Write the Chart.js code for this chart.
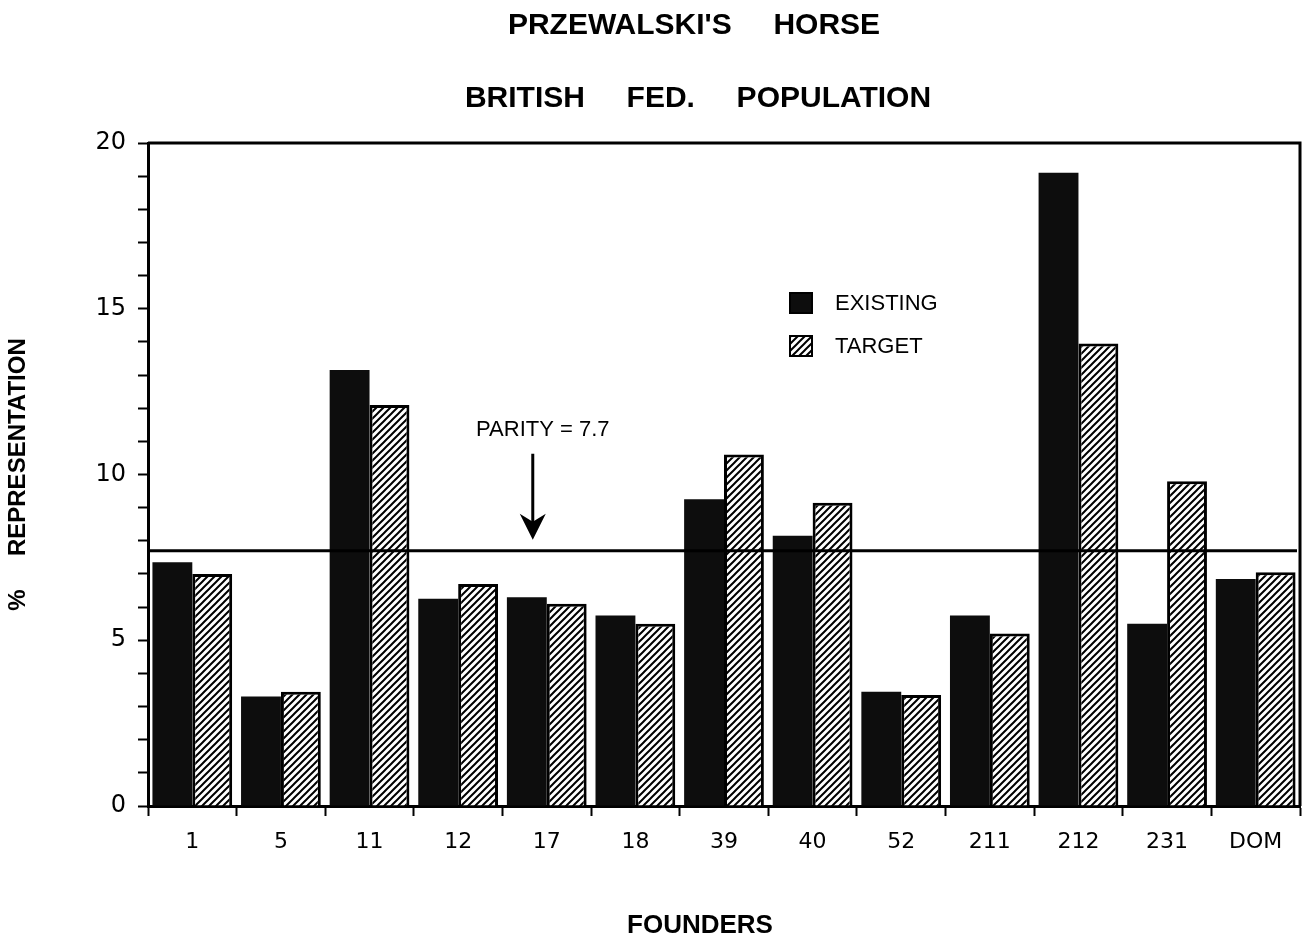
<!DOCTYPE html>
<html>
<head>
<meta charset="utf-8">
<script src="https://cdn.jsdelivr.net/npm/chart.js@4.4.1/dist/chart.umd.min.js"></script>
<style>
  html, body { margin: 0; padding: 0; background: #fff; }
  canvas { display: block; }
</style>
</head>
<body>
<canvas id="horseChart" width="1304" height="940"></canvas>
<script>
const founders = ['1', '5', '11', '12', '17', '18', '39', '40', '52', '211', '212', '231', 'DOM'];
const existing = [7.35, 3.3, 13.15, 6.25, 6.3, 5.75, 9.25, 8.15, 3.45, 5.75, 19.1, 5.5, 6.85];
const target = [7.0, 3.45, 12.1, 6.7, 6.1, 5.5, 10.6, 9.15, 3.35, 5.2, 13.95, 9.8, 7.05];
const parity = 7.7;
const parityLabel = 'PARITY = 7.7';
const titleLines = ["PRZEWALSKI'S     HORSE", 'BRITISH     FED.     POPULATION'];
const xTitle = 'FOUNDERS';

function hatchPattern(ctx) {
    const tile = document.createElement('canvas');
    tile.width = 7;
    tile.height = 7;
    const t = tile.getContext('2d');
    t.fillStyle = '#fff';
    t.fillRect(0, 0, 7, 7);
    t.strokeStyle = '#000';
    t.lineWidth = 2;
    t.beginPath();
    t.moveTo(-1, 8); t.lineTo(8, -1);
    t.moveTo(-2, 2); t.lineTo(2, -2);
    t.moveTo(5, 9); t.lineTo(9, 5);
    t.stroke();
    return ctx.createPattern(tile, 'repeat');
}

// top and right sides of the frame
const framePlugin = {
    id: 'frame',
    afterDraw(chart) {
        const { ctx, chartArea: a } = chart;
        ctx.save();
        ctx.strokeStyle = '#000';
        ctx.lineWidth = 3;
        ctx.beginPath();
        ctx.moveTo(a.left, a.top);
        ctx.lineTo(a.right, a.top);
        ctx.lineTo(a.right, a.bottom);
        ctx.stroke();
        ctx.restore();
    }
};

const titlePlugin = {
    id: 'titles',
    afterDraw(chart) {
        const ctx = chart.ctx;
        ctx.save();
        ctx.fillStyle = '#000';
        ctx.font = 'bold 30px "Liberation Sans", Arial, sans-serif';
        ctx.textAlign = 'center';
        ctx.textBaseline = 'middle';
        ctx.fillText(titleLines[0], 694, 26);
        ctx.fillText(titleLines[1], 698, 99);
        ctx.font = 'bold 26px "Liberation Sans", Arial, sans-serif';
        ctx.fillText(xTitle, 700, 926);
        ctx.restore();
    }
};

const parityPlugin = {
    id: 'parity',
    afterDatasetsDraw(chart) {
        const { ctx, chartArea: a, scales: { x, y } } = chart;
        const py = y.getPixelForValue(parity);
        const ax = x.getPixelForValue(4) - 14;
        ctx.save();
        ctx.strokeStyle = '#000';
        ctx.fillStyle = '#000';
        ctx.lineWidth = 3;
        ctx.beginPath();
        ctx.moveTo(a.left, py);
        ctx.lineTo(a.right - 3, py);
        ctx.stroke();
        // arrow
        ctx.beginPath();
        ctx.moveTo(ax, py - 97);
        ctx.lineTo(ax, py - 24);
        ctx.stroke();
        ctx.beginPath();
        ctx.moveTo(ax - 13, py - 37);
        ctx.lineTo(ax, py - 29);
        ctx.lineTo(ax + 13, py - 37);
        ctx.lineTo(ax, py - 11);
        ctx.closePath();
        ctx.fill();
        ctx.font = '22px "Liberation Sans", Arial, sans-serif';
        ctx.textAlign = 'center';
        ctx.textBaseline = 'middle';
        ctx.fillText(parityLabel, ax + 10, py - 121);
        ctx.restore();
    }
};

const legendPlugin = {
    id: 'boxLegend',
    afterDraw(chart) {
        const { ctx, chartArea: a } = chart;
        const bx = a.left + 642;
        let by = a.top + 150;
        ctx.save();
        ctx.font = '22px "Liberation Sans", Arial, sans-serif';
        ctx.textBaseline = 'middle';
        chart.data.datasets.forEach(ds => {
            ctx.fillStyle = ds.backgroundColor;
            ctx.fillRect(bx, by, 22, 20);
            ctx.strokeStyle = '#000';
            ctx.lineWidth = 2;
            ctx.strokeRect(bx, by, 22, 20);
            ctx.fillStyle = '#000';
            ctx.fillText(ds.label, bx + 45, by + 11);
            by += 43;
        });
        ctx.restore();
    }
};

document.addEventListener('DOMContentLoaded', () => {
    const canvas = document.getElementById('horseChart');
    const ctx = canvas.getContext('2d');
    const hatch = hatchPattern(ctx);

    new Chart(canvas, {
        type: 'bar',
        data: {
            labels: founders,
            datasets: [{
                label: 'EXISTING',
                data: existing,
                backgroundColor: '#0d0d0d',
                borderWidth: 0
            }, {
                label: 'TARGET',
                data: target,
                backgroundColor: hatch,
                borderColor: '#000',
                borderWidth: 3
            }]
        },
        options: {
            responsive: false,
            animation: false,
            categoryPercentage: 0.9,
            barPercentage: 1.0,
            layout: { padding: { top: 143, right: 4, bottom: 0, left: 0 } },
            plugins: {
                legend: { display: false },
                title: { display: false },
                tooltip: { enabled: false }
            },
            scales: {
                x: {
                    grid: { drawOnChartArea: false, tickLength: 10, tickWidth: 2, color: '#000', offset: true },
                    border: { display: true, width: 3, color: '#000' },
                    ticks: {
                        color: '#000',
                        font: { family: 'DejaVu Sans', size: 22 },
                        padding: 13,
                        maxRotation: 0,
                        autoSkip: false
                    },
                    afterFit: s => { s.height = 134; }
                },
                y: {
                    min: 0,
                    max: 20,
                    grid: { drawOnChartArea: false, tickLength: 10, tickWidth: 2, color: '#000' },
                    border: { display: true, width: 3, color: '#000' },
                    ticks: {
                        stepSize: 1,
                        autoSkip: false,
                        color: '#000',
                        font: { family: 'DejaVu Sans', size: 24 },
                        padding: 12,
                        callback: v => (v % 5 === 0 ? v : '')
                    },
                    title: {
                        display: true,
                        text: '%     REPRESENTATION',
                        color: '#000',
                        font: { family: 'Liberation Sans', size: 24, weight: 'bold' },
                        padding: { top: 4, bottom: 0 }
                    },
                    afterFit: s => { s.width = 148; }
                }
            }
        },
        plugins: [framePlugin, parityPlugin, legendPlugin, titlePlugin]
    });
});
</script>
</body>
</html>
